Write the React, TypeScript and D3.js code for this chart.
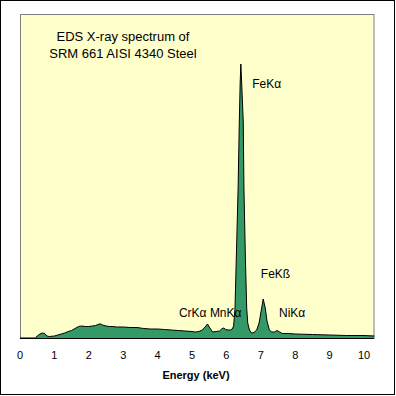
import React, { useEffect, useRef } from "react";
import * as d3 from "d3";

// spectrum: energy (keV) and counts
const energies = [
  0.0, 0.45, 0.5, 0.58, 0.65, 0.72, 0.78, 0.85, 1.0, 1.1, 1.2, 1.3, 1.4, 1.5, 1.6, 1.7, 1.8, 1.9,
  2.0, 2.1, 2.2, 2.3, 2.35, 2.4, 2.5, 2.6, 2.7, 2.8, 3.0, 3.2, 3.4, 3.6, 3.8, 4.0, 4.2, 4.4, 4.6,
  4.8, 5.0, 5.1, 5.2, 5.3, 5.38, 5.45, 5.52, 5.6, 5.7, 5.8, 5.86, 5.92, 5.98, 6.05, 6.12, 6.17,
  6.21, 6.25, 6.29, 6.34, 6.375, 6.4, 6.42, 6.45, 6.49, 6.51, 6.55, 6.59, 6.62, 6.67, 6.73, 6.8,
  6.88, 6.95, 7.0, 7.07, 7.13, 7.18, 7.25, 7.32, 7.4, 7.47, 7.55, 7.62, 7.8, 8.0, 8.5, 9.0, 9.5,
  10.0, 10.3,
];
const counts = [
  0, 0, 20, 40, 50, 45, 20, 15, 20, 30, 40, 50, 65, 75, 95, 115, 120, 115,
  115, 120, 125, 140, 140, 130, 120, 115, 115, 110, 110, 105, 105, 95, 90, 90, 85, 80, 75,
  70, 65, 60, 65, 80, 110, 140, 100, 60, 65, 70, 90, 100, 85, 80, 80, 90,
  120, 300, 830, 1500, 2160, 2550, 2740, 2500, 2160, 1500, 830, 300, 150, 80, 50, 55,
  80, 150, 250, 390, 300, 170, 80, 60, 60, 75, 60, 45, 45, 40, 35, 30, 25,
  25, 20,
];

const xTicks = [0, 1, 2, 3, 4, 5, 6, 7, 8, 9, 10];

const peakNames = ["FeK\u03b1", "FeK\u00df", "CrK\u03b1", "MnK\u03b1", "NiK\u03b1"];
const peakLabelE = [6.75, 7.0, 4.62, 5.52, 7.53];
const peakLabelCounts = [2500, 600, 215, 215, 215];

const titleLines = ["EDS X-ray spectrum of", "SRM 661 AISI 4340 Steel"];

const App = () => {
  const svgRef = useRef(null);

  useEffect(() => {
    const svg = d3.select(svgRef.current);
    svg.selectAll("*").remove();

    const left = 20, right = 373.5, top = 14, bottom = 338;

    const x = d3.scaleLinear().domain([0, 10]).range([20, 364]);
    const y = d3.scaleLinear().domain([0, 3240]).range([bottom, top]);

    const data = energies.map((e, i) => ({ e, c: counts[i] }));

    // outer frame
    svg.append("rect")
      .attr("x", 0.5).attr("y", 0.5).attr("width", 394).attr("height", 394)
      .attr("fill", "#fff").attr("stroke", "#000");

    // plot area
    svg.append("rect")
      .attr("x", left + 0.5).attr("y", top + 0.5)
      .attr("width", right - left).attr("height", bottom - top)
      .attr("fill", "#FFFFCC").attr("stroke", "#808080");

    const area = d3.area()
      .x((d) => x(d.e))
      .y0(bottom)
      .y1((d) => y(d.c));
    svg.append("path")
      .datum(data)
      .attr("d", area)
      .attr("fill", "#339966");

    const line = d3.line()
      .x((d) => x(d.e))
      .y((d) => y(d.c));
    svg.append("path")
      .datum(data)
      .attr("d", line)
      .attr("fill", "none")
      .attr("stroke", "#000")
      .attr("stroke-width", 1);

    // x axis line
    svg.append("line")
      .attr("x1", left).attr("x2", right + 0.5)
      .attr("y1", bottom + 0.5).attr("y2", bottom + 0.5)
      .attr("stroke", "#000");

    svg.selectAll(".tick-label")
      .data(xTicks)
      .join("text")
      .attr("class", "tick-label")
      .attr("x", (d) => x(d))
      .attr("y", 359)
      .attr("text-anchor", "middle")
      .attr("font-size", "11px")
      .attr("fill", "#000")
      .text((d) => d);

    svg.append("text")
      .attr("x", 196)
      .attr("y", 379)
      .attr("text-anchor", "middle")
      .attr("font-size", "11px")
      .attr("font-weight", "bold")
      .text("Energy (keV)");

    svg.selectAll(".title")
      .data(titleLines)
      .join("text")
      .attr("class", "title")
      .attr("x", 123)
      .attr("y", (d, i) => 41 + i * 16.5)
      .attr("text-anchor", "middle")
      .attr("font-size", "13px")
      .text((d) => d);

    svg.selectAll(".peak")
      .data(peakNames)
      .join("text")
      .attr("class", "peak")
      .attr("x", (d, i) => x(peakLabelE[i]))
      .attr("y", (d, i) => y(peakLabelCounts[i]))
      .attr("font-size", "12px")
      .text((d) => d);
  }, []);

  return (
    <svg
      ref={svgRef}
      width={396}
      height={396}
      style={{ position: "absolute", left: 0, top: 0, fontFamily: "'Liberation Sans', Arial, sans-serif" }}
    />
  );
};

export default App;
